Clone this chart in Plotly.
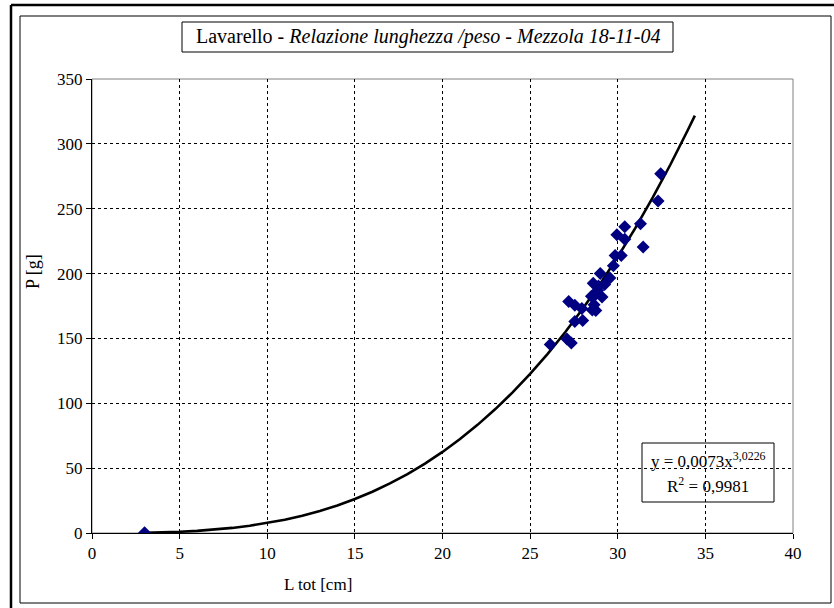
import plotly.graph_objects as go

# Observed data: total length [cm] vs weight [g]
length_cm = [3.0, 26.15, 27.1, 27.35, 27.55, 28.0, 27.2, 27.55, 27.95, 28.55, 28.75,
             28.65, 28.5, 28.75, 29.1, 28.85, 28.6, 28.9, 29.25, 29.0, 29.55, 29.75,
             29.85, 30.2, 29.95, 30.4, 30.4, 31.3, 31.45, 32.3, 32.45]
weight_g = [0.2, 145.4, 149.5, 146.5, 163.0, 163.8, 178.5, 175.5, 173.0, 172.0, 171.5,
            176.0, 182.5, 184.0, 182.0, 187.0, 192.5, 190.5, 191.5, 200.0, 196.5, 206.0,
            214.0, 214.0, 230.0, 226.5, 236.0, 238.5, 220.5, 256.0, 277.0]

# Power trendline
trend_x = [3, 4, 5, 6, 7, 8, 9, 10, 11, 12, 13, 14, 15, 16, 17, 18, 19, 20, 21, 22,
           23, 24, 25, 26, 27, 28, 29, 30, 31, 32, 33, 34, 34.4]
trend_y = [0.2, 0.48, 0.95, 1.64, 2.62, 3.92, 5.59, 7.69, 10.26, 13.34, 17.0, 21.26,
           26.19, 31.83, 38.24, 45.45, 53.52, 62.5, 72.42, 83.36, 95.34, 108.4, 122.7,
           138.1, 154.8, 172.8, 192.1, 212.9, 235.0, 258.7, 283.9, 310.7, 321.8]

x_ticks = [0, 5, 10, 15, 20, 25, 30, 35, 40]
y_ticks = [0, 50, 100, 150, 200, 250, 300, 350]

title_html = "Lavarello - <i>Relazione lunghezza /peso - Mezzola 18-11-04</i>"
eq_line1 = "y = 0,0073x<sup>3,0226</sup>"
eq_line2 = "R<sup>2</sup> = 0,9981"

FONT = "'Liberation Serif', 'DejaVu Serif', serif"

W, H = 834, 608
L, R, T, B = 92, 793, 79, 533
PW, PH = R - L, B - T


def px(xp):
    return (xp - L) / PW


def py(yp):
    return (B - yp) / PH


fig = go.Figure()
fig.add_trace(go.Scatter(x=trend_x, y=trend_y, mode="lines",
                         line=dict(color="black", width=2.6), hoverinfo="skip"))
fig.add_trace(go.Scatter(x=length_cm, y=weight_g, mode="markers",
                         marker=dict(symbol="diamond", size=10, color="#000080",
                                     line=dict(width=0))))

axis_common = dict(showline=True, linecolor="black", linewidth=1, ticks="outside",
                   ticklen=5, tickcolor="black", showgrid=True, gridcolor="black",
                   gridwidth=1, griddash="dot", zeroline=False,
                   tickfont=dict(family=FONT, size=17, color="black"))

fig.update_xaxes(range=[0, 40], tickvals=x_ticks, **axis_common)
fig.update_yaxes(range=[0, 350], tickvals=y_ticks, **axis_common)

shapes = [
    # plot area border (grey)
    dict(type="rect", xref="paper", yref="paper", x0=0, y0=0, x1=1, y1=1,
         line=dict(color="#808080", width=1), layer="between"),
    # inner chart border
    dict(type="rect", xref="paper", yref="paper", x0=px(20), y0=py(603), x1=px(831), y1=py(16),
         line=dict(color="black", width=1)),
    # outer thick frame (left and top)
    dict(type="line", xref="paper", yref="paper", x0=px(11), y0=py(610), x1=px(11), y1=py(5),
         line=dict(color="black", width=2.5)),
    dict(type="line", xref="paper", yref="paper", x0=px(11), y0=py(5), x1=px(836), y1=py(5),
         line=dict(color="black", width=2.5)),
    # title box
    dict(type="rect", xref="paper", yref="paper", x0=px(182), y0=py(52), x1=px(673), y1=py(22),
         line=dict(color="black", width=1)),
    # equation box
    dict(type="rect", xref="paper", yref="paper", x0=px(642), y0=py(502), x1=px(774), y1=py(443),
         line=dict(color="black", width=1)),
]

annotations = [
    dict(text=title_html, xref="paper", yref="paper", x=px(428), y=py(37),
         showarrow=False, xanchor="center", yanchor="middle",
         font=dict(family=FONT, size=20, color="black")),
    dict(text="L tot [cm]", xref="paper", yref="paper", x=px(318), y=py(584),
         showarrow=False, xanchor="center", yanchor="middle",
         font=dict(family=FONT, size=17, color="black")),
    dict(text="P [g]", xref="paper", yref="paper", x=px(33), y=py(272), textangle=-90,
         showarrow=False, xanchor="center", yanchor="middle",
         font=dict(family=FONT, size=18, color="black")),
    dict(text=eq_line1, xref="paper", yref="paper", x=px(708), y=py(460),
         showarrow=False, xanchor="center", yanchor="middle",
         font=dict(family=FONT, size=17, color="black")),
    dict(text=eq_line2, xref="paper", yref="paper", x=px(708), y=py(485),
         showarrow=False, xanchor="center", yanchor="middle",
         font=dict(family=FONT, size=17, color="black")),
]

fig.update_layout(width=W, height=H, margin=dict(l=L, r=W - R, t=T, b=H - B),
                  paper_bgcolor="white", plot_bgcolor="white", showlegend=False,
                  shapes=shapes, annotations=annotations)

fig.write_html("out.html", config={"displayModeBar": False},
               post_script="document.body.style.margin='0px';")
